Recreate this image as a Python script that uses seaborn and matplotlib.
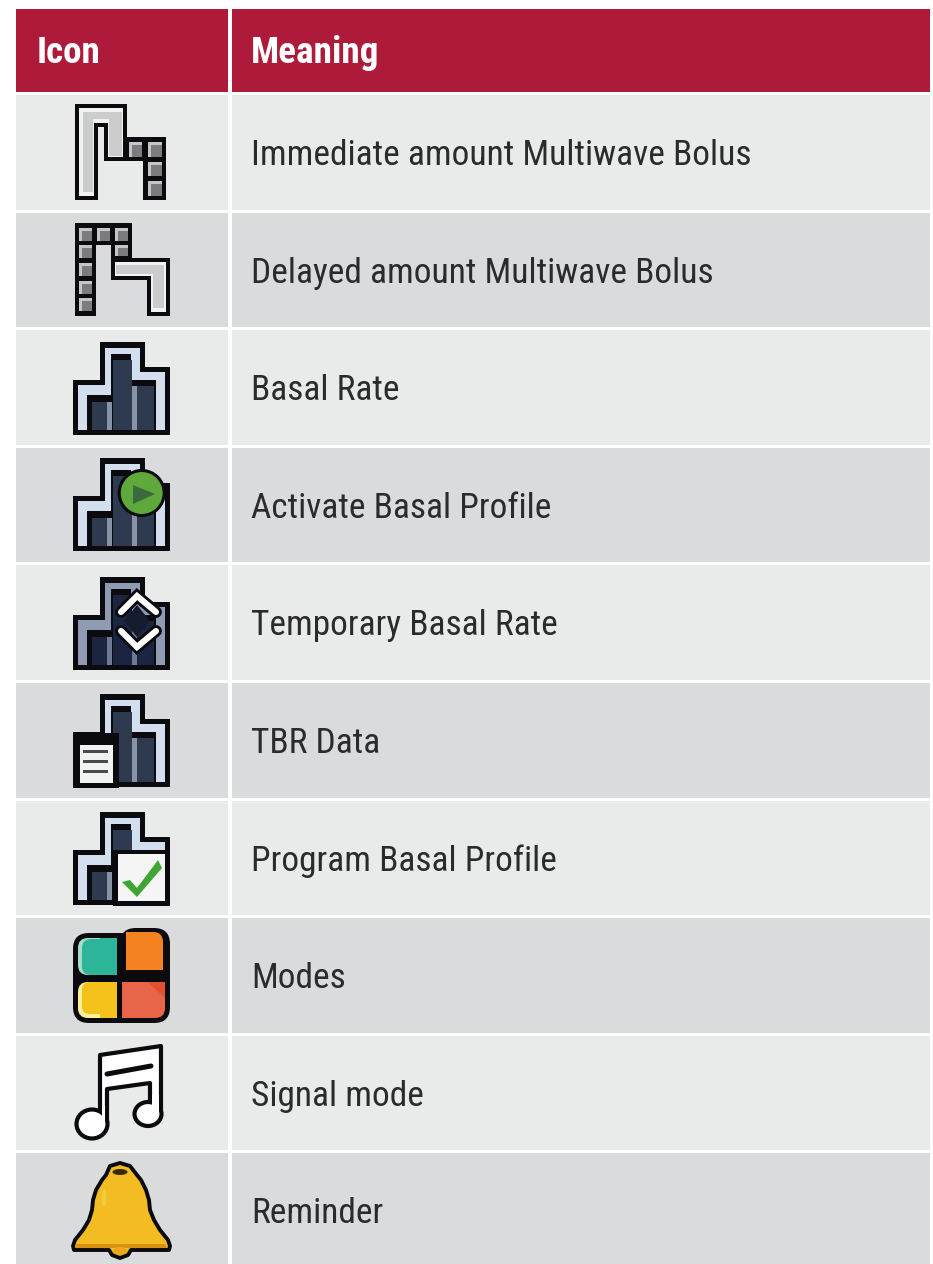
import matplotlib
matplotlib.use("Agg")
import matplotlib.pyplot as plt
from matplotlib.colors import ListedColormap
from matplotlib.patches import Polygon, Circle, Ellipse, Rectangle, FancyBboxPatch
import numpy as np
import seaborn as sns

# table content
headers = ["Icon", "Meaning"]
meanings = ["Immediate amount Multiwave Bolus", "Delayed amount Multiwave Bolus", "Basal Rate",
            "Activate Basal Profile", "Temporary Basal Rate", "TBR Data", "Program Basal Profile",
            "Modes", "Signal mode", "Reminder"]
row_shades = [0, 1, 0, 1, 0, 1, 0, 1, 0, 1]

W, H = 933, 1264
RED = "#AE1A3A"
LIGHT = "#E9EBEA"
DARK = "#DADBDD"
INK = "#2B2A2C"
BLACK = "#0A0A0F"
GAP = 3 * 72 / 100
ROW_H = 117.6
TEXT_FONT = ["Roboto Condensed", "Liberation Sans Narrow", "Roboto", "DejaVu Sans"]

sns.set_theme(style="white")
plt.rcParams["font.family"] = TEXT_FONT

fig = plt.figure(figsize=(W / 100, H / 100), dpi=100, facecolor="white")


def px_axes(x0, y0, x1, y1):
    return fig.add_axes([x0 / W, 1 - y1 / H, (x1 - x0) / W, (y1 - y0) / H])


# two columns of different width, so one heatmap per column
for x0, x1 in [(14, 229.5), (229.5, 931)]:
    sns.heatmap(np.array([[0]]), ax=px_axes(x0, 6.5, x1, 93), cmap=ListedColormap([RED]), cbar=False,
                xticklabels=False, yticklabels=False, linewidths=GAP, linecolor="white")
    body = np.array(row_shades).reshape(-1, 1)
    sns.heatmap(body, ax=px_axes(x0, 93, x1, 93 + ROW_H * len(row_shades)), cmap=ListedColormap([LIGHT, DARK]),
                vmin=0, vmax=1, cbar=False, xticklabels=False, yticklabels=False, linewidths=GAP, linecolor="white")

# overlay in pixel coordinates for the text and icons
ax = fig.add_axes([0, 0, 1, 1])
ax.set_xlim(0, W)
ax.set_ylim(H, 0)
ax.axis("off")
ax.patch.set_alpha(0)

ax.text(37, 63, headers[0], color="white", fontsize=26.7, fontweight="bold", va="baseline")
ax.text(251, 63, headers[1], color="white", fontsize=26.7, fontweight="bold", va="baseline")
for i, label in enumerate(meanings):
    ax.text(251, 165 + i * ROW_H, label, color=INK, fontsize=25.5, va="baseline")


def poly(pts, color, x0=0, y0=0, **kw):
    pts = [(x0 + a, y0 + b) for a, b in pts]
    ax.add_patch(Polygon(pts, closed=True, facecolor=color, edgecolor=kw.pop("edge", "none"), **kw))


def box(x, y, x2, y2, color):
    ax.add_patch(Rectangle((x, y), x2 - x, y2 - y, facecolor=color, edgecolor="none"))


def cell(x, y, x2, y2):
    box(x, y, x2, y2, "#C4C6C5")
    box(x + 3, y + 3, x2, y2, "#7C7C7C")


# multiwave icons
poly([(75, 104), (127, 104), (127, 137), (166, 137), (166, 200), (143, 200), (143, 161), (104, 161),
      (104, 127), (98, 127), (98, 200), (75, 200)], BLACK)
poly([(79, 108), (123, 108), (123, 157), (108, 157), (108, 123), (94, 123), (94, 196), (79, 196)], "#F2F2F2")
poly([(83, 112), (122, 112), (122, 156), (109, 156), (109, 119), (93, 119), (93, 192), (83, 192)], "#CBCDCC")
cell(129, 142, 142, 157)
cell(148, 142, 162, 157)
cell(148, 162, 162, 176)
cell(148, 181, 162, 196)

poly([(75, 223), (132, 223), (132, 258), (170, 258), (170, 316), (147, 316), (147, 280), (111, 280),
      (111, 245), (96, 245), (96, 316), (75, 316)], BLACK)
for cx in [79, 97, 115]:
    cell(cx, 228, cx + 13, 241)
for cy in [245, 263, 281, 298]:
    cell(79, cy, 92, cy + 13)
cell(115, 245, 128, 256)
poly([(115, 262), (166, 262), (166, 312), (151, 312), (151, 276), (115, 276)], "#F2F2F2")
poly([(116, 265), (164, 265), (164, 308), (153, 308), (153, 274), (116, 274)], "#CBCDCC")


def basal(y0, band="#D3DFEF", fill="#2E3A50", stripe="#8A93A6"):
    x0 = 73
    poly([(0, 93), (0, 38), (27, 38), (27, 0), (72, 0), (72, 25), (97, 25), (97, 93)], BLACK, x0, y0)
    poly([(5, 88), (5, 43), (32, 43), (32, 6), (67, 6), (67, 30), (92, 30), (92, 88)], band, x0, y0)
    poly([(14, 88), (14, 53), (38, 53), (38, 12), (58, 12), (58, 38), (83, 38), (83, 88)], BLACK, x0, y0)
    box(x0 + 19, y0 + 60, x0 + 34, y0 + 88, fill)
    box(x0 + 40, y0 + 18, x0 + 59, y0 + 88, fill)
    box(x0 + 64, y0 + 44, x0 + 81, y0 + 88, fill)
    box(x0 + 34, y0 + 60, x0 + 39, y0 + 88, stripe)
    box(x0 + 59, y0 + 44, x0 + 64, y0 + 88, stripe)


basal(342)

# activate: green play button
basal(458)
ax.add_patch(Circle((141.7, 493), 22.5, facecolor="#5FA83C", edgecolor=BLACK, linewidth=2.2))
poly([(133, 485), (133, 504), (155, 494)], "#3A6B3C")

# temporary: two chevrons
basal(577, band="#8E9BB2", fill="#1B2440", stripe="#6F7A92")
poly([(137, 605), (150, 621), (137, 637), (124, 621)], "#161C30")
for pts in ([(121, 612), (137, 596), (156, 612)], [(121, 631), (137, 647), (156, 631)]):
    xs, ys = zip(*pts)
    ax.plot(xs, ys, color=BLACK, lw=8.5, solid_joinstyle="miter", solid_capstyle="round")
    ax.plot(xs, ys, color="white", lw=4.4, solid_joinstyle="miter", solid_capstyle="round")

# TBR data: document
basal(694)
box(73, 733, 119, 788, BLACK)
box(80, 745, 113, 783, "#F1F2F2")
for ly in [751, 761, 771]:
    box(83, ly - 1.5, 108, ly + 1.5, "#4A4A4C")

# program: check mark
basal(812)
box(113, 850, 170, 906, BLACK)
box(118, 854, 165, 901, "#F4F5F4")
poly([(122, 882), (130, 880), (137, 888), (158, 860), (162, 868), (137, 897)], "#3FA535")

# modes: four tiles, rounded only on their outer corners
ax.add_patch(FancyBboxPatch((89, 949), 65, 58, boxstyle="round,pad=16,rounding_size=16", facecolor=BLACK,
                            edgecolor="none"))
ax.add_patch(FancyBboxPatch((130, 938), 30, 30, boxstyle="round,pad=10,rounding_size=16", facecolor=BLACK,
                            edgecolor="none"))
tile = "round,pad=0,rounding_size=10"
for (x, y, w, h, c) in [(78, 938, 39, 37, "#A7DCCB"), (126, 932, 37, 38, "#F58220"),
                        (78, 982, 39, 36, "#FFF09A"), (122, 982, 43, 36, "#E8654A")]:
    ax.add_patch(FancyBboxPatch((x, y), w, h, boxstyle=tile, facecolor=c, edgecolor="none"))
box(100, 938, 117, 975, "#2DB59A")
ax.add_patch(FancyBboxPatch((82, 939), 30, 36, boxstyle="round,pad=0,rounding_size=9", facecolor="#2DB59A",
                            edgecolor="none"))
box(126, 955, 163, 970, "#F58220")
box(126, 932, 140, 970, "#F58220")
box(100, 982, 117, 1018, "#F4C21A")
ax.add_patch(FancyBboxPatch((82, 982), 30, 32, boxstyle="round,pad=0,rounding_size=8", facecolor="#F4C21A",
                            edgecolor="none"))
box(100, 982, 117, 1014, "#F4C21A")
box(122, 982, 165, 1000, "#E8654A")
box(122, 982, 140, 1018, "#E8654A")
poly([(148, 982), (165, 982), (165, 998)], "#E2502F")

# signal mode: music note
stem = [(100, 1055), (161, 1046), (161, 1110), (150, 1110), (150, 1083), (107, 1089), (107, 1122), (100, 1122)]
poly(stem, "white", edge=BLACK, linewidth=3.0, joinstyle="round")
ax.plot([107, 151], [1074, 1066], color=BLACK, lw=3.6)
ax.add_patch(Ellipse((92, 1124), 31, 29, facecolor="white", edgecolor=BLACK, linewidth=3.0))
ax.add_patch(Ellipse((148, 1114), 27, 24, facecolor="white", edgecolor=BLACK, linewidth=3.0))
box(102, 1105, 105, 1122, "white")
box(152, 1095, 159, 1112, "white")

# reminder: bell
bell_right = [(130, 1166), (137, 1175), (141, 1180), (146, 1190), (149, 1200), (150, 1210), (154, 1220), (160, 1230),
              (168, 1240), (170, 1246), (169, 1250), (131, 1250), (128, 1255), (120, 1258)]
bell_left = [(112, 1255), (109, 1250), (74, 1250), (73, 1246), (75, 1240), (83, 1230), (89, 1220), (92, 1210),
             (93, 1200), (96, 1190), (102, 1180), (106, 1175), (110, 1166), (120, 1163)]
poly(bell_right + bell_left, "#F2BC22", edge=BLACK, linewidth=2.8, joinstyle="round")
ax.add_patch(Ellipse((120, 1172), 15, 6, facecolor="#3A2A10", edgecolor="none"))
poly([(77, 1244), (165, 1244), (167, 1248), (75, 1248)], "#D9920F")
ax.add_patch(Ellipse((120, 1251), 14, 8, facecolor="#EBA81C", edgecolor="none"))
ax.add_patch(Ellipse((104, 1198), 5, 18, facecolor="#F5C93E", edgecolor="none"))

fig.savefig("out.png", dpi=100)
